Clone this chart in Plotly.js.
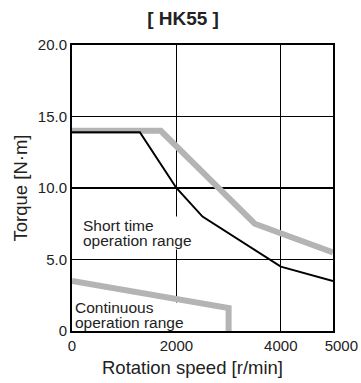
<!DOCTYPE html>
<html>
<head>
<meta charset="utf-8">
<script src="https://cdn.plot.ly/plotly-3.0.1.min.js"></script>
<style>html,body{margin:0;padding:0;background:#fff;}#chart{width:361px;height:383px;}</style>
</head>
<body>
<div id="chart"></div>
<script>
// Short time operation range (max torque, gray)
var shortSpeed = [0, 1700, 3500, 5000];
var shortTorque = [14.0, 14.0, 7.5, 5.5];
// Rated torque curve (black)
var ratedSpeed = [0, 1300, 2000, 2500, 4000, 5000];
var ratedTorque = [13.9, 13.9, 10.0, 8.0, 4.5, 3.5];
// Continuous operation range (gray)
var contSpeed = [0, 3000, 3000];
var contTorque = [3.5, 1.6, 0];

var xTickVals = [0, 2000, 4000, 5000];
var xTickText = ['0', '2000', '4000', '\u00a0\u00a0\u00a0\u00a05000'];
var yTickVals = [0, 5, 10, 15, 20];
var yTickText = ['0', '5.0', '10.0', '15.0', '20.0'];

var FONT = 'Liberation Sans, Arial, sans-serif';
var TXT = '#222';
var GRAY = '#b4b4b4';

var traces = [
  {x: shortSpeed, y: shortTorque, mode: 'lines', line: {color: GRAY, width: 6}, hoverinfo: 'skip'},
  {x: contSpeed, y: contTorque, mode: 'lines', line: {color: GRAY, width: 6}, hoverinfo: 'skip'},
  {x: ratedSpeed, y: ratedTorque, mode: 'lines', line: {color: '#000', width: 2}, hoverinfo: 'skip'}
];

// base font size sets line spacing (1.3 x size); spans set glyph size
function lab(l1, l2, x, y, base, bg) {
  var s = '<span style="font-size:15.5px">';
  return {text: s + l1 + '</span><br>' + s + l2 + '</span>', x: x, y: y, xref: 'x', yref: 'y',
    xanchor: 'left', yanchor: 'middle', align: 'left',
    showarrow: false, bgcolor: bg, borderpad: 0, font: {family: FONT, size: base, color: TXT}};
}

var contLabelX = 40, contLabelY = 1.09;

var layout = {
  width: 361, height: 383,
  margin: {l: 72, r: 28, t: 45, b: 52},
  paper_bgcolor: '#fff', plot_bgcolor: '#fff',
  showlegend: false,
  title: {text: '<b>[ HK55 ]</b>', x: 0.507, xanchor: 'center', y: 0.953, yanchor: 'middle',
    font: {family: FONT, size: 19, color: TXT}},
  xaxis: {
    range: [0, 5000], tickvals: xTickVals, ticktext: xTickText,
    showgrid: true, gridcolor: '#000', gridwidth: 1.2, zeroline: false,
    showline: true, linecolor: '#000', linewidth: 2, mirror: true, ticks: '',
    tickfont: {family: FONT, size: 15, color: TXT}
  },
  yaxis: {
    range: [0, 20], tickvals: yTickVals, ticktext: yTickText,
    showgrid: true, gridcolor: '#000', gridwidth: 1.2, zeroline: false,
    showline: true, linecolor: '#000', linewidth: 2, mirror: true, ticks: '',
    tickfont: {family: FONT, size: 15, color: TXT},
    title: {text: 'Torque [N\u00b7m]', standoff: 5, font: {family: FONT, size: 18.5, color: TXT}}
  },
  // white mask behind the "Continuous" label: above gridlines, below traces
  shapes: [
    {type: 'rect', layer: 'between', xref: 'x', yref: 'y',
      xsizemode: 'pixel', ysizemode: 'pixel', xanchor: contLabelX, yanchor: contLabelY,
      x0: -2, x1: 116, y0: -18, y1: 13, fillcolor: '#fff', line: {width: 0}}
  ],
  annotations: [
    lab('Short time', 'operation range', 190, 6.84, 11.8, '#fff'),
    lab('Continuous', 'operation range', contLabelX, contLabelY, 11.8, 'rgba(0,0,0,0)'),
    {text: 'Rotation speed [r/min]', x: 0.461, y: -0.126, xref: 'paper', yref: 'paper',
      xanchor: 'center', yanchor: 'middle', showarrow: false,
      font: {family: FONT, size: 18.5, color: TXT}}
  ]
};

Plotly.newPlot('chart', traces, layout, {staticPlot: true, displayModeBar: false});
</script>
</body>
</html>
